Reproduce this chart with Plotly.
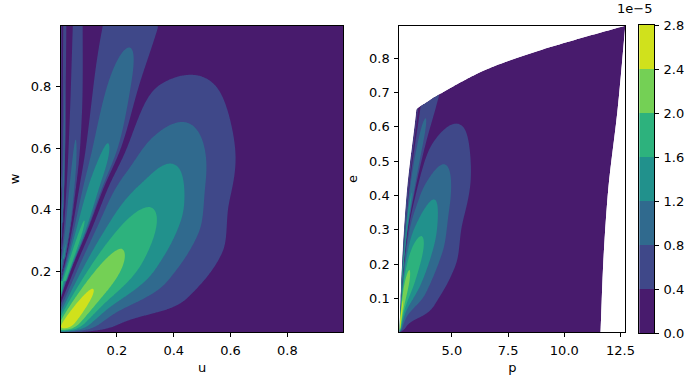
import numpy as np
import plotly.graph_objects as go

# ---------------- data ----------------
levels = [0.0, 0.4, 0.8, 1.2, 1.6, 2.0, 2.4, 2.8]          # x 1e-5
band_colors = ["#481b6d", "#3f4889", "#306a8e", "#21918c", "#2db27d", "#74d055", "#d0e11c"]
tick_u = [0.2, 0.4, 0.6, 0.8]
tick_w = [0.2, 0.4, 0.6, 0.8]
tick_p = [5.0, 7.5, 10.0, 12.5]
tick_e = [0.1, 0.2, 0.3, 0.4, 0.5, 0.6, 0.7, 0.8]

# zero-valleys between lobes in the (u, w) plane, given as u position at w
gap1_w = [0.11, 0.22, 0.34, 0.47, 0.60, 0.81, 0.99]
gap1_u = [0.0, 0.045, 0.10, 0.155, 0.218, 0.29, 0.366]
gap2_w = [0.17, 0.25, 0.42, 0.62, 0.80, 0.997]
gap2_u = [0.0, 0.02, 0.05, 0.075, 0.085, 0.088]
gap3_w = [0.24, 0.35, 0.55, 0.75, 0.997]
gap3_u = [0.0, 0.01, 0.018, 0.021, 0.023]
gap4_w = [0.36, 0.50, 0.75, 0.997]
gap4_u = [0.0, 0.004, 0.006, 0.007]

# main lobe: ridge at 51 deg (bending upward far out); value along it and half-widths
ridge_deg = 51.0
main_t = [0.0, 0.185, 0.35, 0.52, 0.68, 0.81, 0.96, 1.1, 1.3]
main_amp = [2.85, 2.4, 2.0, 1.6, 1.2, 0.82, 0.42, 0.14, 0.0]
bend_t = [0.0, 0.55, 0.7, 0.85, 1.0, 1.3]
bend_n = [0.0, 0.0, -0.025, -0.065, -0.1, -0.15]
cplus_t = [0.0, 0.157, 0.372, 0.572, 0.695, 0.847, 1.0, 1.3]
cplus = [0.03, 0.058, 0.122, 0.14, 0.13, 0.145, 0.13, 0.12]
cminus_t = [0.0, 0.17, 0.35, 0.5, 0.7, 0.9, 1.3]
cminus = [0.03, 0.05, 0.08, 0.11, 0.135, 0.145, 0.15]

# secondary lobes (towards the w axis): ridge value vs distance from origin
lobe_r = [[0.0, 0.25, 0.5, 0.75, 0.94, 1.2, 1.45],
          [0.0, 0.3, 0.61, 0.9, 1.2, 1.45],
          [0.0, 0.4, 0.83, 1.2, 1.45],
          [0.0, 0.5, 1.0, 1.45]]
lobe_amp = [[2.1, 1.8, 1.4, 1.05, 0.82, 0.55, 0.3],
            [1.7, 1.2, 0.82, 0.6, 0.45, 0.3],
            [1.45, 1.0, 0.8, 0.6, 0.5],
            [1.25, 0.9, 0.72, 0.6]]

# (u, w) -> (p, e) map
map_u = [0.0, 0.109, 0.197, 0.286, 0.357, 0.416, 0.487, 0.635, 0.78, 0.9, 1.0]
map_dp = [0.0, 0.11, 0.29, 0.63, 1.02, 1.35, 1.78, 2.97, 5.1, 7.3, 9.0]
etop_u = [0.0, 0.2, 0.36, 0.49, 0.635, 0.78, 0.9, 1.0]
etop_e = [0.652, 0.668, 0.70, 0.73, 0.77, 0.822, 0.866, 0.898]
psep_e = [0.0, 0.2, 0.4, 0.657, 0.9]
psep_p = [2.66, 2.78, 2.98, 3.43, 3.77]


def pchip(x, xp, fp):
    xp = np.asarray(xp, float)
    fp = np.asarray(fp, float)
    h = np.diff(xp)
    dl = np.diff(fp) / h
    n = len(xp)
    m = np.zeros(n)
    for k in range(1, n - 1):
        if dl[k - 1] * dl[k] > 0:
            w1 = 2 * h[k] + h[k - 1]
            w2 = h[k] + 2 * h[k - 1]
            m[k] = (w1 + w2) / (w1 / dl[k - 1] + w2 / dl[k])
    m[0] = dl[0]
    m[-1] = dl[-1]
    x = np.clip(np.asarray(x, float), xp[0], xp[-1])
    idx = np.clip(np.searchsorted(xp, x) - 1, 0, n - 2)
    t = (x - xp[idx]) / h[idx]
    h00 = 2 * t**3 - 3 * t**2 + 1
    h10 = t**3 - 2 * t**2 + t
    h01 = -2 * t**3 + 3 * t**2
    h11 = t**3 - t**2
    return h00 * fp[idx] + h10 * h[idx] * m[idx] + h01 * fp[idx + 1] + h11 * h[idx] * m[idx + 1]


gaps_w = [gap1_w, gap2_w, gap3_w, gap4_w]
gaps_u = [gap1_u, gap2_u, gap3_u, gap4_u]


def field(U, W):
    R = np.hypot(U, W)
    gaps = [np.where(W < gw[0], 0.0, pchip(W, gw, gu)) for gw, gu in zip(gaps_w, gaps_u)]
    # first valley, continued below the axis start so the main lobe stays smooth
    ug1 = np.where(W < gap1_w[0], (W - gap1_w[0]) / 2.44, gaps[0])
    ca, sa = np.cos(np.radians(ridge_deg)), np.sin(np.radians(ridge_deg))
    T = ca * U + sa * W
    N = sa * U - ca * W - pchip(ca * U + sa * W, bend_t, bend_n)
    A = pchip(T, main_t, main_amp)
    C = np.where(N >= 0, pchip(T, cplus_t, cplus), pchip(T, cminus_t, cminus))
    main = A / np.cosh(N / C)
    main *= np.tanh(np.maximum(U - ug1, 0) / 0.02)
    main *= np.tanh(W / 0.012)
    Z = np.where(U >= ug1, main, 0.0)
    bounds = gaps + [np.zeros_like(U)]
    for i in range(1, len(bounds)):
        left, right = bounds[i], bounds[i - 1]
        width = np.maximum(right - left, 1e-9)
        xx = np.clip((U - left) / width, 0, 1)
        fat = np.sin(np.pi * xx ** 1.5) ** 0.55
        prof = np.where(left > 0, fat, np.cos(np.pi * xx / 2) ** 0.6)
        amp = pchip(R, lobe_r[i - 1], lobe_amp[i - 1])
        sel = (U >= left) & (U < right)
        Z = np.where(sel, amp * prof, Z)
    return np.clip(Z, 0, 2.78)


# ---------------- grids ----------------
u = np.linspace(0.003, 0.997, 321)
w = np.linspace(0.003, 0.997, 321)
UU, WW = np.meshgrid(u, w)
Zl = np.round(field(UU, WW), 4)

a = 0.003 + 0.994 * np.linspace(0, 1, 171) ** 1.5
b = np.linspace(0.003, 0.997, 131)
UA, WB = np.meshgrid(a, b)
E = WB * pchip(UA, etop_u, etop_e)
P = pchip(E, psep_e, psep_p) + pchip(UA, map_u, map_dp)
Zr = np.round(field(UA, WB), 4)

# piecewise-constant colour scale (contour fills sampled at band centres)
cs = []
nb = len(band_colors)
for k, c in enumerate(band_colors):
    lo = 0.0 if k == 0 else (2 * k - 1) / 12
    hi = 1.0 if k == nb - 1 else (2 * k + 1) / 12
    cs.append([lo, c])
    cs.append([hi, c])

cont = dict(start=levels[1], end=levels[-2], size=levels[1] - levels[0],
            coloring="fill", showlines=False)

fig = go.Figure()
fig.add_trace(go.Contour(x=u, y=w, z=Zl, contours=cont, autocontour=False,
                         colorscale=cs, showscale=False, line=dict(width=0),
                         hoverinfo="skip", xaxis="x", yaxis="y"))

hide = dict(showgrid=False, showline=False, showticklabels="none", startline=False,
            endline=False, minorgridcount=0, smoothing=0, tickmode="array", tickvals=[])
fig.add_trace(go.Carpet(a=a, b=b, x=P, y=E, carpet="c1", aaxis=hide, baxis=hide,
                        xaxis="x2", yaxis="y2"))
fig.add_trace(go.Contourcarpet(a=a, b=b, z=Zr, carpet="c1", contours=cont,
                               autocontour=False, colorscale=cs, showscale=False,
                               line=dict(width=0), xaxis="x2", yaxis="y2"))

# colour bar drawn as a bar on its own axis
fig.add_trace(go.Bar(x=[0] * nb, y=np.diff(levels), base=levels[:-1], width=1.0,
                     marker=dict(color=band_colors, line=dict(width=0)),
                     xaxis="x3", yaxis="y3", hoverinfo="skip", showlegend=False))

W_, H_ = 696, 386
FONT = dict(family="DejaVu Sans", size=13, color="black")
ydom = [1 - 332.3 / H_, 1 - 25.7 / H_]
ax_common = dict(showline=True, mirror=True, linecolor="black", linewidth=1,
                 ticks="outside", ticklen=4, tickwidth=1, tickcolor="black",
                 showgrid=False, zeroline=False, tickfont=FONT, ticklabelstandoff=2,
                 automargin=False)

fig.update_layout(
    width=W_, height=H_, margin=dict(l=0, r=0, t=0, b=0, autoexpand=False),
    paper_bgcolor="white", plot_bgcolor="white", showlegend=False, font=FONT,
    hovermode=False,
    xaxis=dict(domain=[61 / W_, 343.3 / W_], range=[u[0], u[-1]], tickvals=tick_u,
               ticktext=[f"{v:.1f}" for v in tick_u],
               title=dict(text="u", font=FONT, standoff=5), anchor="y", **ax_common),
    yaxis=dict(domain=ydom, range=[w[0], w[-1]], tickvals=tick_w,
               ticktext=[f"{v:.1f}" for v in tick_w],
               title=dict(text="w", font=FONT, standoff=8), anchor="x", **ax_common),
    xaxis2=dict(domain=[399.3 / W_, 625.3 / W_], range=[float(P.min()), float(P.max())],
                tickvals=tick_p, ticktext=[f"{v:.1f}" for v in tick_p],
                title=dict(text="p", font=FONT, standoff=5), anchor="y2", **ax_common),
    yaxis2=dict(domain=ydom, range=[float(E.min()), float(E.max())], tickvals=tick_e,
                ticktext=[f"{v:.1f}" for v in tick_e],
                title=dict(text="e", font=FONT, standoff=8), anchor="x2", **ax_common),
    xaxis3=dict(domain=[639.3 / W_, 654 / W_], range=[-0.5, 0.5], showline=True,
                mirror=True, linecolor="black", linewidth=1, showticklabels=False,
                ticks="", showgrid=False, zeroline=False, anchor="y3", automargin=False),
    yaxis3=dict(domain=[1 - 333 / H_, 1 - 25 / H_], range=[levels[0], levels[-1]],
                side="right", tickvals=levels, ticktext=[f"{v:.1f}" for v in levels],
                anchor="x3", **ax_common),
    annotations=[dict(text="1e\u22125", x=654 / W_, y=1 - 9 / H_, xref="paper",
                      yref="paper", xanchor="right", yanchor="middle",
                      showarrow=False, font=FONT)],
    bargap=0,
)

fig.write_html("out.html", config={"displayModeBar": False, "staticPlot": True},
               post_script="document.body.style.margin='0px';document.body.style.padding='0px';")
